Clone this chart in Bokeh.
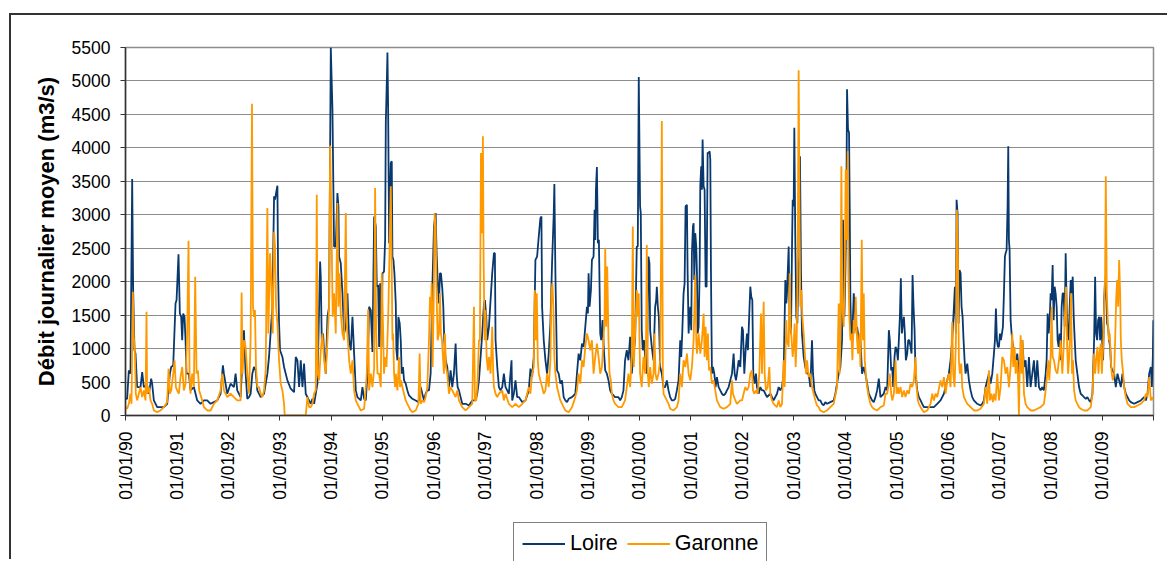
import math
from datetime import datetime
from bokeh.plotting import figure
from bokeh.layouts import column
from bokeh.models import Range1d, FixedTicker, DatetimeTickFormatter, Legend, LegendItem
from bokeh.embed import file_html
from bokeh.resources import INLINE

# Dates as decimal years, flows in m3/s
loire_t = [
    1990.000, 1990.032, 1990.065, 1990.097, 1990.130, 1990.149, 1990.175, 1990.195, 1990.214, 1990.227,
    1990.260, 1990.292, 1990.325, 1990.357, 1990.422, 1990.455, 1990.500, 1990.519, 1990.552, 1990.617,
    1990.682, 1990.747, 1990.812, 1990.864, 1990.890, 1990.929, 1990.974, 1990.994,
    1991.032, 1991.058, 1991.084, 1991.104, 1991.123, 1991.149, 1991.169, 1991.188, 1991.234, 1991.266,
    1991.331, 1991.396, 1991.461, 1991.526, 1991.591, 1991.656, 1991.721, 1991.786, 1991.851, 1991.896,
    1991.916, 1991.948, 1991.981,
    1992.045, 1992.110, 1992.143, 1992.175, 1992.240, 1992.305, 1992.338, 1992.370, 1992.403, 1992.435,
    1992.468, 1992.500, 1992.532, 1992.565, 1992.630, 1992.695, 1992.760, 1992.792, 1992.857, 1992.890,
    1992.909, 1992.929, 1992.955, 1992.968, 1992.987,
    1993.006, 1993.052, 1993.084, 1993.149, 1993.214, 1993.279, 1993.312, 1993.344, 1993.377, 1993.409,
    1993.442, 1993.474, 1993.506, 1993.571, 1993.604, 1993.636, 1993.669, 1993.734, 1993.786, 1993.799,
    1993.818, 1993.844, 1993.864, 1993.896, 1993.929, 1993.961, 1993.994,
    1994.026, 1994.058, 1994.091, 1994.123, 1994.143, 1994.156, 1994.188, 1994.221, 1994.253, 1994.286,
    1994.318, 1994.351, 1994.383, 1994.416, 1994.448, 1994.481, 1994.513, 1994.578, 1994.610, 1994.643,
    1994.675, 1994.708, 1994.740, 1994.773, 1994.805, 1994.838, 1994.870, 1994.890, 1994.916, 1994.935,
    1994.955, 1994.981,
    1995.000, 1995.030, 1995.052, 1995.065, 1995.084, 1995.097, 1995.110, 1995.130, 1995.149, 1995.162,
    1995.181, 1995.194, 1995.213, 1995.233, 1995.259, 1995.272, 1995.291, 1995.310, 1995.336, 1995.356,
    1995.375, 1995.400, 1995.420, 1995.453, 1995.485, 1995.517, 1995.582, 1995.647, 1995.700, 1995.744,
    1995.776, 1995.810, 1995.840, 1995.873, 1995.906, 1995.938, 1995.970,
    1996.003, 1996.035, 1996.054, 1996.074, 1996.100, 1996.119, 1996.138, 1996.164, 1996.184, 1996.203,
    1996.229, 1996.261, 1996.294, 1996.326, 1996.358, 1996.390, 1996.423, 1996.442, 1996.462, 1996.488,
    1996.520, 1996.552, 1996.617, 1996.682, 1996.746, 1996.811, 1996.843, 1996.876, 1996.908, 1996.940,
    1996.973, 1996.992,
    1997.018, 1997.037, 1997.070, 1997.134, 1997.167, 1997.186, 1997.199, 1997.232, 1997.264, 1997.296,
    1997.329, 1997.361, 1997.393, 1997.426, 1997.458, 1997.510, 1997.523, 1997.555, 1997.587, 1997.620,
    1997.652, 1997.717, 1997.781, 1997.846, 1997.878, 1997.911, 1997.943, 1997.975,
    1998.008, 1998.040, 1998.072, 1998.092, 1998.105, 1998.137, 1998.170, 1998.202, 1998.234, 1998.267,
    1998.299, 1998.331, 1998.344, 1998.364, 1998.396, 1998.428, 1998.461, 1998.493, 1998.525, 1998.558,
    1998.590, 1998.622, 1998.687, 1998.752, 1998.784, 1998.816, 1998.849, 1998.881, 1998.913, 1998.946,
    1998.978, 1998.997,
    1999.010, 1999.030, 1999.056, 1999.075, 1999.107, 1999.127, 1999.140, 1999.153, 1999.172, 1999.191,
    1999.211, 1999.237, 1999.256, 1999.282, 1999.308, 1999.334, 1999.366, 1999.398, 1999.430, 1999.463,
    1999.495, 1999.527, 1999.592, 1999.624, 1999.657, 1999.689, 1999.720, 1999.754, 1999.786, 1999.819,
    1999.851, 1999.884, 1999.916, 1999.948, 1999.968, 1999.987,
    2000.013, 2000.026, 2000.045, 2000.065, 2000.091, 2000.110, 2000.143, 2000.175, 2000.195, 2000.208,
    2000.240, 2000.273, 2000.305, 2000.325, 2000.338, 2000.357, 2000.377, 2000.403, 2000.435, 2000.468,
    2000.500, 2000.532, 2000.565, 2000.597, 2000.630, 2000.662, 2000.695, 2000.727, 2000.760, 2000.792,
    2000.812, 2000.831, 2000.857, 2000.877, 2000.896, 2000.922, 2000.935, 2000.955, 2000.974, 2000.987,
    2001.006, 2001.019, 2001.039, 2001.052, 2001.065, 2001.084, 2001.104, 2001.117, 2001.130, 2001.149,
    2001.169, 2001.182, 2001.200, 2001.214, 2001.227, 2001.247, 2001.266, 2001.286, 2001.305, 2001.325,
    2001.344, 2001.364, 2001.377, 2001.390, 2001.409, 2001.429, 2001.455, 2001.480, 2001.506, 2001.539,
    2001.571, 2001.604, 2001.636, 2001.669, 2001.701, 2001.734, 2001.766, 2001.799, 2001.831, 2001.851,
    2001.877, 2001.896, 2001.929, 2001.961, 2001.994,
    2002.013, 2002.039, 2002.065, 2002.091, 2002.110, 2002.136, 2002.156, 2002.175, 2002.195, 2002.214,
    2002.240, 2002.266, 2002.286, 2002.318, 2002.351, 2002.383, 2002.416, 2002.448, 2002.481, 2002.545,
    2002.610, 2002.675, 2002.708, 2002.740, 2002.773, 2002.805, 2002.838, 2002.857, 2002.870, 2002.903,
    2002.922, 2002.948, 2002.968, 2002.981,
    2003.000, 2003.013, 2003.032, 2003.052, 2003.071, 2003.091, 2003.110, 2003.123, 2003.143, 2003.162,
    2003.195, 2003.227, 2003.260, 2003.292, 2003.325, 2003.357, 2003.377, 2003.403, 2003.422, 2003.455,
    2003.487, 2003.519, 2003.552, 2003.584, 2003.617, 2003.649, 2003.714, 2003.779, 2003.812, 2003.844,
    2003.877, 2003.909, 2003.942, 2003.961, 2003.974, 2003.987,
    2004.006, 2004.026, 2004.039, 2004.058, 2004.078, 2004.091, 2004.104, 2004.123, 2004.143, 2004.169,
    2004.188, 2004.208, 2004.234, 2004.253, 2004.279, 2004.299, 2004.331, 2004.364, 2004.396, 2004.429,
    2004.461, 2004.494, 2004.526, 2004.558, 2004.591, 2004.623, 2004.656, 2004.688, 2004.753, 2004.786,
    2004.818, 2004.851, 2004.870, 2004.896, 2004.916, 2004.935, 2004.961, 2004.981,
    2005.006, 2005.026, 2005.045, 2005.065, 2005.084, 2005.104, 2005.123, 2005.143, 2005.162, 2005.182,
    2005.208, 2005.227, 2005.247, 2005.273, 2005.292, 2005.312, 2005.331, 2005.351, 2005.370, 2005.403,
    2005.435, 2005.468, 2005.500, 2005.532, 2005.597, 2005.662, 2005.727, 2005.792, 2005.857, 2005.922,
    2005.955, 2005.987,
    2006.019, 2006.052, 2006.084, 2006.117, 2006.136, 2006.156, 2006.169, 2006.188, 2006.208, 2006.227,
    2006.247, 2006.266, 2006.286, 2006.305, 2006.325, 2006.344, 2006.377, 2006.409, 2006.442, 2006.474,
    2006.506, 2006.539, 2006.571, 2006.636, 2006.669, 2006.701, 2006.734, 2006.766, 2006.799, 2006.831,
    2006.864, 2006.896, 2006.916, 2006.935, 2006.955, 2006.974, 2006.994,
    2007.013, 2007.032, 2007.052, 2007.071, 2007.091, 2007.110, 2007.123, 2007.143, 2007.162, 2007.175,
    2007.188, 2007.201, 2007.221, 2007.240, 2007.260, 2007.286, 2007.318, 2007.351, 2007.383, 2007.416,
    2007.448, 2007.481, 2007.513, 2007.545, 2007.578, 2007.610, 2007.643, 2007.675, 2007.708, 2007.740,
    2007.773, 2007.805, 2007.838, 2007.870, 2007.903, 2007.922, 2007.942, 2007.961, 2007.981,
    2008.000, 2008.019, 2008.039, 2008.058, 2008.078, 2008.097, 2008.117, 2008.136, 2008.156, 2008.175,
    2008.195, 2008.214, 2008.234, 2008.253, 2008.273, 2008.292, 2008.312, 2008.331, 2008.351, 2008.370,
    2008.390, 2008.409, 2008.429, 2008.448, 2008.468, 2008.487, 2008.519, 2008.552, 2008.584, 2008.617,
    2008.649, 2008.682, 2008.714, 2008.747, 2008.779, 2008.812, 2008.844, 2008.864, 2008.883, 2008.903,
    2008.922, 2008.942, 2008.961, 2008.981,
    2009.000, 2009.019, 2009.039, 2009.058, 2009.078, 2009.097, 2009.117, 2009.136, 2009.156, 2009.175,
    2009.201, 2009.234, 2009.266, 2009.299, 2009.331, 2009.364, 2009.396, 2009.429, 2009.461, 2009.494,
    2009.526, 2009.558, 2009.623, 2009.688, 2009.753, 2009.818, 2009.851, 2009.883, 2009.916, 2009.948,
    2009.968, 2009.987, 2009.997,
]
loire_q = [
    250, 250, 675, 625, 3535, 1875, 975, 925, 625, 425,
    425, 425, 650, 425, 450, 325, 550, 475, 225, 125,
    125, 125, 175, 625, 725, 750, 1675, 1725,
    2410, 1525, 1475, 1125, 1525, 1475, 1125, 625, 625, 375,
    425, 225, 175, 225, 225, 175, 200, 225, 325, 750,
    625, 475, 325,
    475, 425, 625, 375, 275, 1275, 625, 250, 275, 325,
    625, 725, 675, 375, 275, 325, 625, 875, 1625, 3275,
    3225, 3325, 3435, 2125, 1375,
    975, 875, 725, 525, 400, 350, 875, 825, 425, 825,
    425, 775, 325, 225, 175, 250, 175, 475, 2300, 2075,
    1125, 1225, 950, 625, 1475, 1625, 5500,
    4575, 2525, 2525, 3325, 3125, 2375, 2275, 1825, 1225, 1325,
    1825, 1125, 975, 1475, 925, 375, 275, 225, 425, 250,
    225, 625, 1625, 1575, 950, 2975, 2825, 1925, 1950, 1025,
    1975, 1025,
    2125, 2150, 2625, 4375, 4975, 5425, 4625, 2575, 3375, 3775,
    3800, 2375, 2325, 2125, 1675, 975, 825, 1475, 1375, 1125,
    625, 725, 525, 475, 375, 300, 250, 225, 200, 425,
    325, 225, 325, 375, 375, 625, 1875,
    2825, 3025, 2425, 2025, 1675, 2125, 2125, 1900, 1625, 1125,
    825, 725, 425, 675, 425, 625, 1075, 625, 425, 375,
    275, 175, 175, 150, 225, 225, 325, 525, 875, 1225,
    1675, 1725,
    1475, 1125, 1325, 2125, 2425, 2425, 1125, 725, 425, 375,
    425, 625, 425, 375, 325, 825, 225, 325, 525, 275,
    275, 200, 225, 375, 700, 575, 875, 2325,
    2375, 2675, 2950, 2975, 1625, 1125, 825, 625, 925, 1375,
    2275, 3000, 3460, 2125, 675, 625, 475, 525, 275, 225,
    200, 250, 275, 325, 625, 925, 825, 1075, 1025, 1325,
    1625, 1525,
    2125, 1625, 1875, 2325, 2375, 3075, 2625, 3375, 3715, 2575,
    2625, 1225, 1125, 1425, 975, 675, 625, 525, 375, 325,
    300, 275, 275, 225, 275, 375, 825, 975, 825, 1175,
    625, 925, 1125, 2525, 2525, 5060,
    3125, 3025, 1275, 975, 1125, 875, 625, 2375, 2275, 1275,
    1025, 825, 1625, 1725, 1925, 1625, 1475, 725, 625, 425,
    425, 525, 375, 275, 225, 225, 250, 375, 525, 1125,
    875, 1225, 1825, 1975, 3125, 3150, 2175, 1225, 1525, 1625,
    1275, 2425, 2825, 2875, 2025, 2725, 2525, 2125, 1225, 1325,
    2125, 3425, 3725, 3375, 4125, 3425, 3375, 1925, 1925, 3925,
    3925, 3950, 3825, 2125, 625, 725, 625, 425, 575, 425,
    375, 325, 300, 325, 375, 425, 525, 625, 925, 625,
    525, 625, 825, 725, 1325,
    1275, 625, 975, 1225, 975, 1525, 1925, 1775, 1725, 625,
    475, 625, 425, 325, 425, 375, 375, 325, 275, 325,
    225, 325, 425, 375, 425, 625, 2025, 1675, 1825, 2525,
    1375, 1225, 2525, 3225,
    3125, 4300, 2625, 1475, 1375, 2125, 2375, 3875, 2125, 1225,
    875, 725, 625, 625, 425, 1125, 625, 375, 325, 275,
    225, 225, 175, 150, 200, 175, 200, 225, 325, 475,
    625, 725, 1125, 2925, 2125, 1475,
    2125, 3125, 4875, 4275, 4225, 3125, 1725, 1125, 1225, 1825,
    1625, 1275, 1325, 1225, 1025, 1125, 625, 725, 625, 475,
    325, 275, 225, 200, 275, 375, 550, 275, 325, 425,
    375, 1275, 1125, 675, 725, 425, 875, 1025,
    975, 825, 1125, 1475, 2050, 1225, 1375, 1475, 1225, 825,
    925, 1125, 1125, 1025, 925, 2100, 1625, 1275, 625, 375,
    275, 225, 175, 125, 125, 125, 125, 175, 225, 325,
    425, 525,
    625, 825, 1125, 1625, 1925, 1225, 3225, 3025, 1375, 2175,
    2125, 1625, 1475, 1125, 825, 625, 775, 525, 375, 275,
    225, 200, 175, 150, 175, 225, 425, 525, 625, 475,
    625, 925, 1125, 1600, 1125, 1025, 1025,
    1225, 1125, 1225, 1325, 1825, 2375, 2425, 2475, 3125, 4025,
    2625, 2475, 1425, 1225, 1075, 875, 825, 925, 625, 825,
    1125, 725, 825, 425, 875, 425, 625, 825, 425, 825,
    425, 375, 425, 375, 625, 825, 1525, 1225, 1425,
    1825, 1725, 2250, 1425, 1925, 1825, 1625, 1125, 1025, 1225,
    825, 1625, 1825, 1825, 1325, 2425, 1625, 1225, 1125, 1625,
    2025, 1825, 2075, 1475, 1125, 825, 625, 425, 325, 300,
    275, 250, 275, 225, 200, 325, 1125, 2075, 1225, 1125,
    1425, 1475, 1125, 1475,
    1125, 825, 1725, 2025, 1825, 1375, 1325, 1125, 1025, 725,
    675, 625, 425, 625, 525, 425, 625, 425, 325, 275,
    225, 200, 175, 200, 225, 275, 225, 325, 625, 725,
    425, 875, 1425,
]

garonne_t = [
    1990.000, 1990.032, 1990.065, 1990.097, 1990.117, 1990.143, 1990.162, 1990.182, 1990.201, 1990.227,
    1990.260, 1990.292, 1990.325, 1990.357, 1990.390, 1990.409, 1990.422, 1990.455, 1990.487, 1990.519,
    1990.552, 1990.617, 1990.682, 1990.747, 1990.812, 1990.838, 1990.864, 1990.890, 1990.929, 1990.955,
    1990.981,
    1991.006, 1991.039, 1991.071, 1991.104, 1991.136, 1991.169, 1991.201, 1991.227, 1991.247, 1991.266,
    1991.299, 1991.331, 1991.357, 1991.383, 1991.409, 1991.435, 1991.494, 1991.526, 1991.591, 1991.656,
    1991.721, 1991.786, 1991.851, 1991.883, 1991.916, 1991.981,
    1992.045, 1992.110, 1992.175, 1992.240, 1992.260, 1992.279, 1992.305, 1992.338, 1992.370, 1992.403,
    1992.435, 1992.461, 1992.481, 1992.500, 1992.519, 1992.539, 1992.565, 1992.597, 1992.630, 1992.662,
    1992.695, 1992.727, 1992.760, 1992.779, 1992.812, 1992.838, 1992.864, 1992.890, 1992.909, 1992.929,
    1992.955, 1992.987,
    1993.019, 1993.052, 1993.084, 1993.097, 1993.506, 1993.539, 1993.571, 1993.604, 1993.636, 1993.669,
    1993.701, 1993.721, 1993.740, 1993.766, 1993.799, 1993.831, 1993.864, 1993.896, 1993.929, 1993.961,
    1993.981,
    1994.006, 1994.032, 1994.058, 1994.091, 1994.123, 1994.143, 1994.169, 1994.188, 1994.221, 1994.253,
    1994.286, 1994.305, 1994.351, 1994.383, 1994.416, 1994.448, 1994.481, 1994.513, 1994.545, 1994.578,
    1994.643, 1994.695, 1994.721, 1994.740, 1994.773, 1994.805, 1994.838, 1994.857, 1994.877, 1994.903,
    1994.935, 1994.968, 1994.987,
    1995.013, 1995.030, 1995.052, 1995.078, 1995.097, 1995.116, 1995.142, 1995.162, 1995.181, 1995.194,
    1995.207, 1995.226, 1995.246, 1995.259, 1995.291, 1995.323, 1995.343, 1995.362, 1995.388, 1995.420,
    1995.453, 1995.485, 1995.517, 1995.550, 1995.582, 1995.647, 1995.700, 1995.724, 1995.744, 1995.776,
    1995.810, 1995.840, 1995.873, 1995.906, 1995.925, 1995.944, 1995.957, 1995.977, 1995.996,
    1996.016, 1996.035, 1996.054, 1996.074, 1996.100, 1996.119, 1996.138, 1996.158, 1996.177, 1996.197,
    1996.216, 1996.235, 1996.261, 1996.294, 1996.326, 1996.358, 1996.390, 1996.423, 1996.455, 1996.488,
    1996.520, 1996.552, 1996.617, 1996.682, 1996.746, 1996.779, 1996.798, 1996.824, 1996.850, 1996.876,
    1996.895, 1996.915, 1996.934, 1996.953, 1996.966, 1996.986,
    1997.005, 1997.025, 1997.050, 1997.070, 1997.102, 1997.134, 1997.154, 1997.167, 1997.199, 1997.232,
    1997.264, 1997.329, 1997.361, 1997.393, 1997.458, 1997.523, 1997.587, 1997.652, 1997.717, 1997.781,
    1997.846, 1997.878, 1997.911, 1997.943, 1997.962, 1997.982,
    1998.002, 1998.021, 1998.040, 1998.072, 1998.105, 1998.137, 1998.170, 1998.202, 1998.234, 1998.267,
    1998.286, 1998.305, 1998.325, 1998.344, 1998.364, 1998.396, 1998.428, 1998.461, 1998.493, 1998.525,
    1998.558, 1998.622, 1998.687, 1998.752, 1998.784, 1998.816, 1998.849, 1998.881, 1998.913, 1998.946,
    1998.978,
    1999.010, 1999.042, 1999.075, 1999.107, 1999.140, 1999.172, 1999.204, 1999.237, 1999.269, 1999.301,
    1999.321, 1999.334, 1999.353, 1999.373, 1999.398, 1999.418, 1999.444, 1999.463, 1999.495, 1999.527,
    1999.592, 1999.657, 1999.720, 1999.754, 1999.786, 1999.819, 1999.851, 1999.871, 1999.890, 1999.916,
    1999.948, 1999.968, 1999.987,
    2000.013, 2000.045, 2000.078, 2000.110, 2000.130, 2000.143, 2000.162, 2000.182, 2000.208, 2000.240,
    2000.273, 2000.292, 2000.312, 2000.338, 2000.370, 2000.403, 2000.422, 2000.435, 2000.455, 2000.468,
    2000.500, 2000.532, 2000.565, 2000.597, 2000.662, 2000.727, 2000.760, 2000.792, 2000.825, 2000.857,
    2000.890, 2000.922, 2000.955, 2000.987,
    2001.019, 2001.052, 2001.084, 2001.104, 2001.117, 2001.149, 2001.182, 2001.214, 2001.247, 2001.266,
    2001.286, 2001.312, 2001.331, 2001.351, 2001.377, 2001.409, 2001.442, 2001.474, 2001.506, 2001.539,
    2001.571, 2001.636, 2001.701, 2001.766, 2001.799, 2001.818, 2001.864, 2001.896, 2001.961, 2001.994,
    2002.026, 2002.058, 2002.091, 2002.123, 2002.156, 2002.188, 2002.208, 2002.234, 2002.266, 2002.299,
    2002.331, 2002.364, 2002.383, 2002.416, 2002.435, 2002.461, 2002.494, 2002.526, 2002.545, 2002.578,
    2002.610, 2002.675, 2002.708, 2002.740, 2002.773, 2002.805, 2002.825, 2002.857, 2002.870, 2002.903,
    2002.922, 2002.942, 2002.961, 2002.981,
    2003.000, 2003.019, 2003.039, 2003.058, 2003.078, 2003.097, 2003.117, 2003.130, 2003.149, 2003.169,
    2003.195, 2003.214, 2003.240, 2003.260, 2003.292, 2003.325, 2003.357, 2003.390, 2003.422, 2003.455,
    2003.487, 2003.519, 2003.584, 2003.649, 2003.714, 2003.779, 2003.844, 2003.877, 2003.896, 2003.909,
    2003.929, 2003.948, 2003.974, 2003.994,
    2004.013, 2004.032, 2004.052, 2004.065, 2004.084, 2004.104, 2004.123, 2004.143, 2004.169, 2004.188,
    2004.208, 2004.234, 2004.253, 2004.279, 2004.299, 2004.325, 2004.344, 2004.364, 2004.383, 2004.403,
    2004.429, 2004.461, 2004.494, 2004.526, 2004.558, 2004.623, 2004.688, 2004.753, 2004.786, 2004.818,
    2004.851, 2004.870, 2004.896, 2004.916, 2004.948, 2004.981,
    2005.000, 2005.026, 2005.045, 2005.078, 2005.110, 2005.143, 2005.175, 2005.208, 2005.240, 2005.273,
    2005.305, 2005.338, 2005.370, 2005.390, 2005.416, 2005.435, 2005.468, 2005.532, 2005.597, 2005.662,
    2005.695, 2005.727, 2005.760, 2005.792, 2005.857, 2005.890, 2005.922, 2005.955, 2005.987,
    2006.019, 2006.052, 2006.084, 2006.104, 2006.130, 2006.156, 2006.175, 2006.195, 2006.214, 2006.234,
    2006.260, 2006.279, 2006.312, 2006.344, 2006.377, 2006.409, 2006.442, 2006.506, 2006.571, 2006.636,
    2006.701, 2006.734, 2006.766, 2006.799, 2006.818, 2006.844, 2006.877, 2006.896, 2006.929, 2006.961,
    2006.994,
    2007.026, 2007.058, 2007.091, 2007.123, 2007.156, 2007.188, 2007.221, 2007.253, 2007.273, 2007.299,
    2007.318, 2007.351, 2007.370, 2007.383, 2007.396, 2007.416, 2007.435, 2007.455, 2007.481, 2007.513,
    2007.545, 2007.610, 2007.675, 2007.740, 2007.805, 2007.870, 2007.903, 2007.935, 2007.955, 2007.974,
    2008.000, 2008.019, 2008.039, 2008.065, 2008.097, 2008.130, 2008.162, 2008.195, 2008.227, 2008.260,
    2008.279, 2008.299, 2008.318, 2008.338, 2008.357, 2008.377, 2008.396, 2008.416, 2008.435, 2008.455,
    2008.487, 2008.519, 2008.552, 2008.584, 2008.649, 2008.714, 2008.779, 2008.812, 2008.844, 2008.864,
    2008.883, 2008.909, 2008.929, 2008.948, 2008.974, 2008.994,
    2009.019, 2009.039, 2009.058, 2009.071, 2009.091, 2009.110, 2009.130, 2009.149, 2009.169, 2009.188,
    2009.208, 2009.234, 2009.253, 2009.273, 2009.292, 2009.312, 2009.331, 2009.351, 2009.364, 2009.383,
    2009.403, 2009.429, 2009.461, 2009.494, 2009.526, 2009.558, 2009.623, 2009.688, 2009.753, 2009.818,
    2009.851, 2009.883, 2009.916, 2009.948, 2009.981, 2009.997,
]
garonne_q = [
    125, 100, 175, 325, 175, 1850, 1175, 975, 325, 225,
    325, 425, 275, 375, 225, 1550, 325, 425, 225, 175,
    75, 50, 75, 125, 200, 700, 325, 375, 625, 825,
    425,
    375, 325, 575, 725, 375, 475, 1225, 2610, 625, 325,
    625, 425, 2075, 625, 675, 375, 225, 125, 75, 75,
    175, 225, 375, 625, 375, 275,
    325, 275, 225, 225, 1840, 625, 1125, 1025, 625, 325,
    1125, 4660, 1625, 1475, 1575, 725, 425, 425, 325, 275,
    375, 675, 3100, 1225, 2425, 1975, 1225, 2745, 2525, 1625,
    1375, 825,
    475, 375, 175, 0, 0, 275, 125, 125, 175, 325,
    375, 3300, 625, 525, 975, 1225, 825, 625, 1125, 1625,
    4035,
    2875, 1475, 1825, 1225, 3175, 1625, 2125, 1525, 1225, 1125,
    3025, 1375, 825, 625, 825, 375, 225, 175, 125, 75,
    100, 625, 1585, 375, 625, 425, 700, 3400, 1275, 625,
    625, 425, 2125,
    1275, 625, 875, 725, 1125, 1625, 2625, 3425, 2125, 1125,
    1225, 625, 425, 625, 375, 875, 425, 525, 425, 325,
    225, 175, 125, 75, 50, 75, 175, 925, 175, 225,
    200, 275, 425, 1125, 1775, 1525, 1975, 725, 1625,
    3025, 2825, 1825, 1125, 1225, 1825, 1225, 1125, 875, 625,
    1225, 725, 625, 325, 425, 375, 325, 275, 375, 225,
    175, 125, 75, 125, 175, 1625, 225, 225, 525, 1125,
    1125, 3925, 2725, 4175, 2375, 1125,
    1575, 875, 675, 875, 625, 1325, 625, 425, 325, 275,
    325, 375, 225, 325, 175, 125, 175, 125, 175, 225,
    425, 325, 625, 725, 1875, 1125,
    1825, 825, 625, 525, 425, 325, 375, 625, 425, 825,
    1825, 1975, 1625, 875, 625, 425, 325, 225, 175, 125,
    75, 50, 125, 275, 375, 625, 475, 825, 725, 1025,
    1225,
    1125, 975, 1125, 625, 875, 1075, 875, 625, 725, 1125,
    1475, 2500, 1325, 2225, 1125, 625, 525, 325, 225, 175,
    125, 125, 225, 425, 625, 425, 875, 2825, 725, 1225,
    1875, 1475, 1825,
    625, 425, 875, 625, 1225, 2550, 625, 425, 725, 475,
    625, 1225, 625, 525, 625, 825, 2625, 4400, 625, 325,
    275, 225, 175, 100, 75, 125, 225, 625, 425, 825,
    725, 925, 625, 525,
    725, 1125, 2100, 1125, 925, 1225, 925, 1125, 1525, 875,
    1325, 825, 1225, 675, 725, 475, 525, 375, 225, 175,
    125, 100, 125, 175, 525, 325, 225, 175, 225, 225,
    325, 425, 375, 425, 625, 675, 375, 325, 375, 325,
    625, 1525, 625, 1700, 625, 375, 425, 725, 325, 225,
    175, 125, 225, 125, 175, 825, 425, 1425, 1125, 1025,
    2125, 1325, 1125, 875,
    1025, 1375, 725, 1125, 2125, 5160, 2725, 1625, 1875, 1475,
    1225, 975, 625, 825, 575, 625, 425, 325, 225, 150,
    125, 75, 50, 75, 125, 175, 425, 1675, 625, 1125,
    3725, 1625, 1325, 2125,
    3675, 2625, 3950, 2125, 1475, 1125, 1225, 825, 1425, 1225,
    1775, 1125, 925, 1225, 725, 2625, 1125, 1825, 825, 625,
    425, 275, 175, 125, 100, 75, 125, 150, 325, 325,
    475, 625, 325, 225, 325, 825,
    325, 425, 325, 425, 275, 375, 275, 375, 325, 475,
    425, 525, 875, 425, 225, 175, 125, 50, 75, 175,
    325, 225, 325, 275, 525, 425, 575, 325, 525,
    625, 425, 1400, 625, 425, 1125, 3075, 2375, 825, 625,
    775, 425, 275, 225, 175, 150, 125, 75, 75, 100,
    175, 425, 175, 675, 225, 325, 200, 325, 225, 625,
    225,
    425, 875, 825, 625, 725, 425, 725, 1225, 725, 1025,
    625, 825, 425, 0, 625, 1200, 625, 1125, 325, 175,
    125, 75, 75, 100, 125, 175, 375, 625, 825, 525,
    875, 1625, 875, 825, 675, 625, 825, 1125, 625, 1125,
    1525, 1925, 1125, 625, 825, 1225, 1825, 625, 825, 375,
    225, 175, 125, 100, 75, 75, 125, 325, 925, 625,
    825, 1025, 625, 925, 1075, 625,
    1025, 1625, 2125, 3575, 1825, 1425, 1125, 1225, 825, 625,
    525, 625, 1125, 1725, 2025, 1625, 2325, 1825, 1125, 825,
    675, 425, 275, 175, 150, 125, 125, 150, 175, 225,
    325, 275, 575, 225, 275, 225,
]

series_names = ["Loire", "Garonne"]
series_colors = ["#08386e", "#ff9900"]
tick_years = list(range(1990, 2010))
end_year = 2010
y_ticks = list(range(0, 5501, 500))


def to_dt(t):
    y = int(t)
    start = datetime(y, 1, 1)
    return start + (datetime(y + 1, 1, 1) - start) * (t - y)


def to_ms(d):
    return (d - datetime(1970, 1, 1)).total_seconds() * 1000.0


FONT = "Liberation Sans"
W = 1158
loire_x = [to_dt(t) for t in loire_t]
garonne_x = [to_dt(t) for t in garonne_t]

# ---------------- main chart ----------------
p = figure(
    width=W, height=500,
    x_axis_type="datetime",
    x_range=Range1d(to_dt(1990), to_dt(end_year)),
    y_range=Range1d(0, 5500),
    output_backend="svg", toolbar_location=None,
    min_border_left=114, min_border_right=16, min_border_top=32, min_border_bottom=100,
)
p.background_fill_color = "white"
p.border_fill_color = "white"
p.outline_line_color = "#8c8c8c"
p.outline_line_width = 1.5

p.line(loire_x, loire_q, line_color=series_colors[0], line_width=1.8)
p.line(garonne_x, garonne_q, line_color=series_colors[1], line_width=1.8)

xa = p.xaxis[0]
xa.ticker = FixedTicker(ticks=[to_ms(datetime(y, 1, 1)) for y in tick_years],
                        minor_ticks=[to_ms(datetime(end_year, 1, 1))])
fmt = "%d/%m/%y"
xa.formatter = DatetimeTickFormatter(years=fmt, months=fmt, days=fmt, hours=fmt,
                                     minutes=fmt, seconds=fmt, milliseconds=fmt, microseconds=fmt)
xa.major_label_orientation = math.pi / 2
xa.major_label_text_font = FONT
xa.major_label_text_font_size = "17.5px"
xa.major_label_text_color = "black"
xa.major_label_standoff = 11
xa.major_tick_in = 0
xa.major_tick_out = 5
xa.minor_tick_in = 0
xa.minor_tick_out = 5
xa.major_tick_line_color = "#333333"
xa.minor_tick_line_color = "#333333"
xa.axis_line_color = "#333333"
xa.axis_line_width = 1.5

ya = p.yaxis[0]
ya.ticker = FixedTicker(ticks=y_ticks)
ya.major_label_text_font = FONT
ya.major_label_text_font_size = "17.5px"
ya.major_label_text_color = "black"
ya.major_label_standoff = 10
ya.major_tick_in = 0
ya.major_tick_out = 5
ya.major_tick_line_color = "#333333"
ya.axis_line_color = "#333333"
ya.axis_line_width = 1.5
ya.axis_label = "Débit journalier moyen (m3/s)"
ya.axis_label_text_font = FONT
ya.axis_label_text_font_style = "bold"
ya.axis_label_text_font_size = "22px"
ya.axis_label_text_color = "black"
ya.axis_label_standoff = 10

p.xgrid.visible = False
p.ygrid.ticker = FixedTicker(ticks=y_ticks)
p.ygrid.grid_line_color = "#8c8c8c"
p.ygrid.grid_line_width = 1

# ---------------- legend strip below ----------------
q = figure(
    width=W, height=46,
    x_range=Range1d(0, 1), y_range=Range1d(0, 1),
    x_axis_location=None, y_axis_location=None,
    output_backend="svg", toolbar_location=None,
    min_border=0,
)
q.outline_line_color = None
q.xgrid.visible = False
q.ygrid.visible = False
q.background_fill_color = "white"
q.border_fill_color = "white"
items = []
for name, col, xs, ys in zip(series_names, series_colors, [loire_x, garonne_x], [loire_q, garonne_q]):
    # hidden copies of the series: they only supply the legend keys
    r = q.line(x=xs, y=ys, line_color=col, line_width=1.8, visible=False)
    items.append(LegendItem(label=name, renderers=[r]))

legend = Legend(
    items=items,
    orientation="horizontal",
    location=(388, -4),
    label_text_font=FONT,
    label_text_font_size="21.5px",
    label_text_color="black",
    glyph_width=43, glyph_height=25, label_height=25,
    label_standoff=5, spacing=9, padding=8, margin=0,
    border_line_color="black", border_line_width=1,
    background_fill_color="white", background_fill_alpha=1.0,
    inactive_fill_alpha=0.0,
)
q.add_layout(legend)

layout = column(p, q, spacing=0, margin=(15, 0, 0, 11),
                styles={"box-shadow": "-2px -2px 0 0 #333333"})

open("out.html", "w").write(file_html(layout, INLINE))
